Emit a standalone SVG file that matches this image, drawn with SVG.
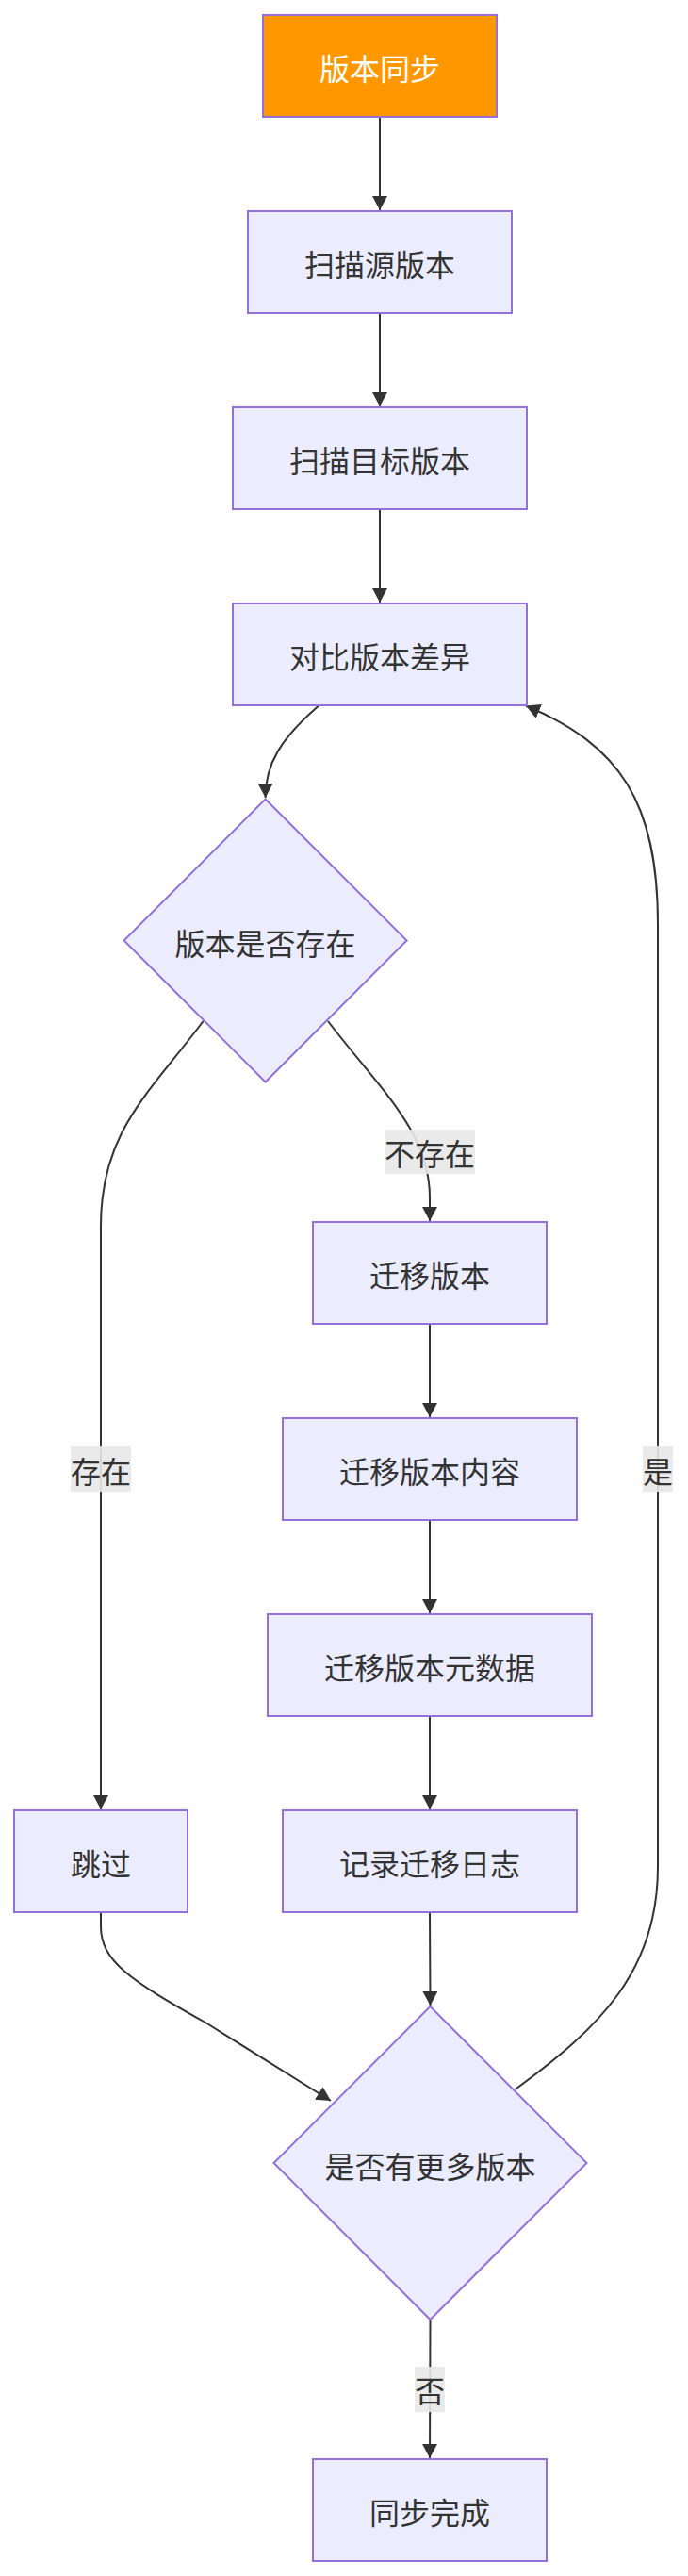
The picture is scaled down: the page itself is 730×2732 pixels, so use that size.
<svg xmlns="http://www.w3.org/2000/svg" width="730" height="2732" viewBox="0 0 730 2732">
<style>
.node rect, .node polygon { fill: #ECECFF; stroke: #9370DB; stroke-width: 2; }
.node text { font-family: "Noto Sans CJK SC", "Noto Sans", sans-serif; font-size: 32px; fill: #333333; text-anchor: middle; dominant-baseline: central; }
#start rect { fill: #FF9800; }
#start text { fill: #FFFFFF; }
.edge { fill: none; stroke: #333333; stroke-width: 2; marker-end: url(#arrow); }
.lbl rect { fill: #E8E8E8; fill-opacity: 0.9; stroke: none; }
.lbl text { font-family: "Noto Sans CJK SC", "Noto Sans", sans-serif; font-size: 32px; fill: #333333; text-anchor: middle; dominant-baseline: central; }
</style>
<defs>
<marker id="arrow" viewBox="0 0 10 10" refX="10" refY="5" markerUnits="userSpaceOnUse" markerWidth="15" markerHeight="16" orient="auto" preserveAspectRatio="none">
<path d="M0,0 L10,5 L0,10 z" fill="#333333"/>
</marker>
</defs>
<rect width="730" height="2732" fill="#FFFFFF"/>
<g id="connectors">
<path class="edge" d="M403,124 L403,223"/>
<path class="edge" d="M403,332 L403,431"/>
<path class="edge" d="M403,540 L403,639"/>
<path class="edge" d="M338.7,748 C 298,783 281.6,810 281.6,846"/>
<path class="edge" d="M215.6,1083 C 158,1160 107,1200 107,1300 L107,1919"/>
<path class="edge" d="M348,1083 C 403,1155 456,1200 456,1270 L456,1295"/>
<path class="edge" d="M456,1404 L456,1503"/>
<path class="edge" d="M456,1612 L456,1711"/>
<path class="edge" d="M456,1820 L456,1919"/>
<path class="edge" d="M456,2028 L456.5,2127"/>
<path class="edge" d="M107,2028 L107,2043 C 107,2080 138,2100 218,2145 L351,2228"/>
<path class="edge" d="M546.5,2216 C 637,2150 698,2090 698,1980 L698,980 C 698,850 657,790 558,748.5"/>
<path class="edge" d="M456.5,2460 L456,2607"/>
<g class="lbl"><rect x="408" y="1198" width="96" height="47"/><text x="456" y="1222">不存在</text></g>
<g class="lbl"><rect x="75" y="1534" width="64" height="48"/><text x="107" y="1559">存在</text></g>
<g class="lbl"><rect x="682" y="1534" width="32" height="48"/><text x="698" y="1559">是</text></g>
<g class="lbl"><rect x="440" y="2510" width="32" height="48"/><text x="456" y="2534">否</text></g>
</g>
<g id="start" class="node"><rect x="279" y="16" width="248" height="108"/><text x="403" y="71">版本同步</text></g>
<g id="scanSrc" class="node"><rect x="263" y="224" width="280" height="108"/><text x="403" y="279">扫描源版本</text></g>
<g id="scanDst" class="node"><rect x="247" y="432" width="312" height="108"/><text x="403" y="487">扫描目标版本</text></g>
<g id="compare" class="node"><rect x="247" y="640" width="312" height="108"/><text x="403" y="695">对比版本差异</text></g>
<g id="exists" class="node"><polygon points="281.6,847.5 431.6,997.5 281.6,1147.5 131.6,997.5"/><text x="281.6" y="999">版本是否存在</text></g>
<g id="migrate" class="node"><rect x="332" y="1296" width="248" height="108"/><text x="456" y="1351">迁移版本</text></g>
<g id="migrateContent" class="node"><rect x="300" y="1504" width="312" height="108"/><text x="456" y="1559">迁移版本内容</text></g>
<g id="migrateMeta" class="node"><rect x="284" y="1712" width="344" height="108"/><text x="456" y="1767">迁移版本元数据</text></g>
<g id="log" class="node"><rect x="300" y="1920" width="312" height="108"/><text x="456" y="1975">记录迁移日志</text></g>
<g id="skip" class="node"><rect x="15" y="1920" width="184" height="108"/><text x="107" y="1975">跳过</text></g>
<g id="more" class="node"><polygon points="456.5,2128 622.5,2294 456.5,2460 290.5,2294"/><text x="456.5" y="2296">是否有更多版本</text></g>
<g id="done" class="node"><rect x="332" y="2608" width="248" height="108"/><text x="456" y="2663">同步完成</text></g>
</svg>
